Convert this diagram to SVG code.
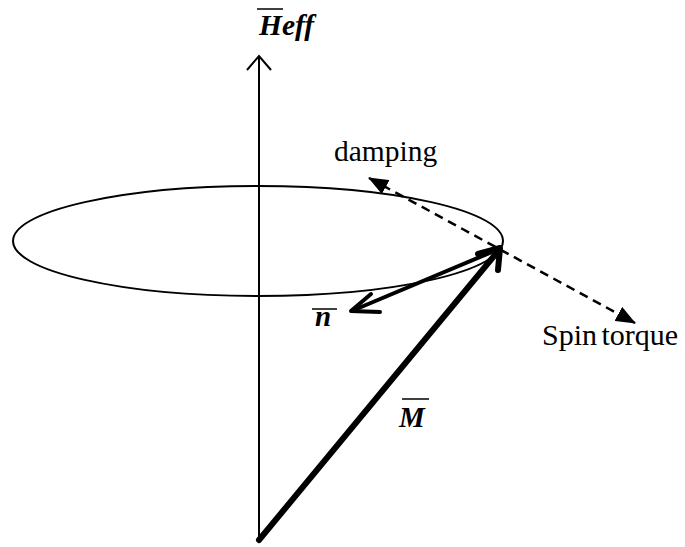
<svg xmlns="http://www.w3.org/2000/svg" width="685" height="547" viewBox="0 0 685 547">
<style>
.lbl{font-family:"Liberation Serif","Times New Roman",serif;fill:#000}
.vec{font-weight:bold;font-style:italic}
.bar{stroke:#000;stroke-width:1.5}
</style>
<defs>
<marker id="tri" viewBox="0 0 20 16" refX="19" refY="8" markerWidth="20" markerHeight="16" markerUnits="userSpaceOnUse" orient="auto-start-reverse">
<path d="M0,0 L20,8 L0,16 Z" fill="#000"/>
</marker>
</defs>
<rect width="685" height="547" fill="#fff"/>
<g id="orbit">
<ellipse cx="258" cy="241" rx="245" ry="55" fill="none" stroke="#000" stroke-width="2"/>
</g>
<g id="connectors">
<g id="axis-Heff">
<line x1="259" y1="56" x2="259" y2="541" stroke="#000" stroke-width="2"/>
<path d="M247,70 L259,56 L271,70" fill="none" stroke="#000" stroke-width="2"/>
</g>
<g id="vec-M">
<line x1="259" y1="540" x2="499" y2="250" stroke="#000" stroke-width="6" stroke-linecap="round"/>
<path d="M478,254 L500,248 L498,270" fill="none" stroke="#000" stroke-width="6" stroke-linecap="round" stroke-linejoin="round"/>
</g>
<g id="vec-n">
<line x1="499" y1="249" x2="354" y2="310" stroke="#000" stroke-width="4" stroke-linecap="round"/>
<path d="M380,312 L351,311 L371,294" fill="none" stroke="#000" stroke-width="4" stroke-linecap="round" stroke-linejoin="round"/>
</g>
<g id="torque-line">
<line x1="369" y1="178" x2="635" y2="323" stroke="#000" stroke-width="2.5" stroke-dasharray="9,6" marker-start="url(#tri)" marker-end="url(#tri)"/>
</g>
</g>
<g id="label-Heff">
<line class="bar" x1="257" y1="9" x2="283" y2="9"/>
<text class="lbl vec" x="259" y="35" font-size="29.5">Heff</text>
</g>
<g id="label-damping">
<text class="lbl" x="334" y="161" font-size="29.5">damping</text>
</g>
<g id="label-spin">
<text class="lbl" x="542" y="345" font-size="30" word-spacing="-3">Spin torque</text>
</g>
<g id="label-n">
<line class="bar" x1="312" y1="309" x2="337" y2="309"/>
<text class="lbl vec" x="315" y="326" font-size="29">n</text>
</g>
<g id="label-M">
<line class="bar" x1="402" y1="399" x2="429" y2="399"/>
<text class="lbl vec" x="399" y="427" font-size="29">M</text>
</g>
</svg>
